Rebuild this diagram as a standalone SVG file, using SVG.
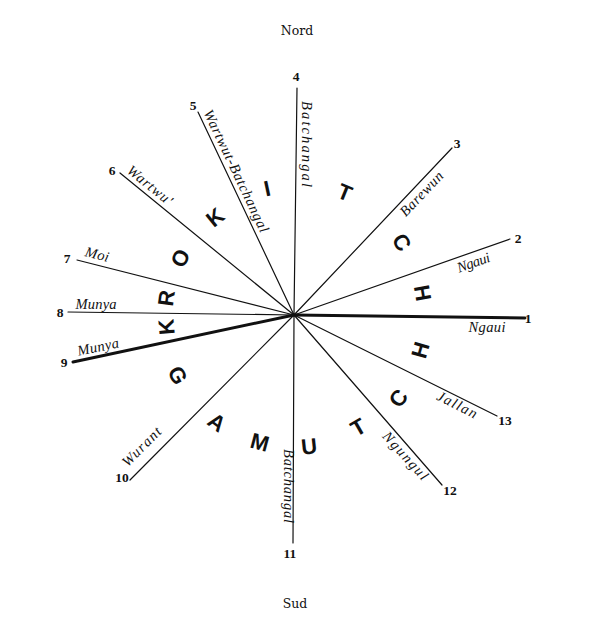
<svg xmlns="http://www.w3.org/2000/svg" width="591" height="623" viewBox="0 0 591 623">
<style>
.bg{fill:#ffffff}
.ln{stroke:#111;stroke-width:1.2;fill:none;stroke-linecap:round}
.thick{stroke:#111;stroke-width:3;fill:none;stroke-linecap:round}
.num{font-family:"Liberation Serif","Times New Roman",serif;font-weight:bold;font-size:13.5px;fill:#111;text-anchor:middle}
.lab{font-family:"Liberation Serif","Times New Roman",serif;font-style:italic;font-size:14.5px;fill:#111;text-anchor:middle}
.big{font-family:"Liberation Sans",Arial,sans-serif;font-weight:bold;font-size:22px;fill:#111;text-anchor:middle}
.dir{font-family:"DejaVu Serif",serif;font-size:12.5px;fill:#111;text-anchor:middle}
</style>
<rect class="bg" x="0" y="0" width="591" height="623"/>
<g id="connectors">
  <line class="thick" x1="294" y1="315" x2="525" y2="318"/>
  <line class="ln" x1="294" y1="315" x2="510" y2="239"/>
  <line class="ln" x1="294" y1="315" x2="452" y2="148"/>
  <line class="ln" x1="294" y1="315" x2="297" y2="88"/>
  <line class="ln" x1="294" y1="315" x2="198" y2="112"/>
  <line class="ln" x1="294" y1="315" x2="120" y2="173"/>
  <line class="ln" x1="294" y1="315" x2="77" y2="260"/>
  <line class="ln" x1="294" y1="315" x2="68" y2="312"/>
  <line class="thick" x1="294" y1="315" x2="73" y2="362"/>
  <line class="ln" x1="294" y1="315" x2="130" y2="480"/>
  <line class="ln" x1="294" y1="315" x2="293" y2="543"/>
  <line class="ln" x1="294" y1="315" x2="442" y2="485"/>
  <line class="ln" x1="294" y1="315" x2="497" y2="416"/>
</g>
<g id="compass">
  <text class="dir" x="297" y="35">Nord</text>
  <text class="dir" x="295" y="608">Sud</text>
</g>
<g id="spoke-1">
  <text class="num" x="528" y="323">1</text>
  <text class="lab" x="487" y="332" textLength="37" lengthAdjust="spacing">Ngaui</text>
</g>
<g id="spoke-2">
  <text class="num" x="518" y="243">2</text>
  <text class="lab" transform="translate(475,267) rotate(-19.4)" textLength="34" lengthAdjust="spacing">Ngaui</text>
</g>
<g id="spoke-3">
  <text class="num" x="457" y="148">3</text>
  <text class="lab" transform="translate(425,197) rotate(-46.6)" textLength="56" lengthAdjust="spacing">Barewun</text>
</g>
<g id="spoke-4">
  <text class="num" x="296" y="81">4</text>
  <text class="lab" transform="translate(302,144) rotate(90)" textLength="86" lengthAdjust="spacing">Batchangal</text>
</g>
<g id="spoke-5">
  <text class="num" x="193" y="110">5</text>
  <text class="lab" transform="translate(232,173) rotate(64.7)" textLength="134" lengthAdjust="spacing">Wartwut-Batchangal</text>
</g>
<g id="spoke-6">
  <text class="num" x="112" y="175">6</text>
  <text class="lab" transform="translate(147,189) rotate(39.2)" textLength="54" lengthAdjust="spacing">Wartwu'</text>
</g>
<g id="spoke-7">
  <text class="num" x="67" y="263">7</text>
  <text class="lab" transform="translate(96,259) rotate(14.2)" textLength="24" lengthAdjust="spacing">Moi</text>
</g>
<g id="spoke-8">
  <text class="num" x="60" y="317">8</text>
  <text class="lab" x="96" y="309" textLength="41" lengthAdjust="spacing">Munya</text>
</g>
<g id="spoke-9">
  <text class="num" x="64" y="367">9</text>
  <text class="lab" transform="translate(99,351.5) rotate(-12)" textLength="42" lengthAdjust="spacing">Munya</text>
</g>
<g id="spoke-10">
  <text class="num" x="122" y="482">10</text>
  <text class="lab" transform="translate(145,450) rotate(-45.2)" textLength="49" lengthAdjust="spacing">Wurant</text>
</g>
<g id="spoke-11">
  <text class="num" x="290" y="558">11</text>
  <text class="lab" transform="translate(284,486) rotate(90)" textLength="74" lengthAdjust="spacing">Batchangal</text>
</g>
<g id="spoke-12">
  <text class="num" x="450" y="495">12</text>
  <text class="lab" transform="translate(402,459) rotate(47.7)" textLength="60" lengthAdjust="spacing">Ngungul</text>
</g>
<g id="spoke-13">
  <text class="num" x="505" y="425">13</text>
  <text class="lab" transform="translate(455,409) rotate(26.6)" textLength="43" lengthAdjust="spacing">Jallan</text>
</g>
<g id="krokitch">
  <text class="big" transform="translate(166,327) rotate(-95)" dy="8">K</text>
  <text class="big" transform="translate(166,298) rotate(-82)" dy="8">R</text>
  <text class="big" transform="translate(180,258) rotate(-63)" dy="8">O</text>
  <text class="big" transform="translate(215,217) rotate(-39)" dy="8">K</text>
  <text class="big" transform="translate(267,188) rotate(-12)" dy="8">I</text>
  <text class="big" transform="translate(345,192) rotate(22)" dy="8">T</text>
  <text class="big" transform="translate(402,242) rotate(56)" dy="8">C</text>
  <text class="big" transform="translate(423,293) rotate(80)" dy="8">H</text>
</g>
<g id="gamutch">
  <text class="big" transform="translate(178,375) rotate(62)" dy="8">G</text>
  <text class="big" transform="translate(217,422) rotate(36)" dy="8">A</text>
  <text class="big" transform="translate(260,442) rotate(15)" dy="8">M</text>
  <text class="big" transform="translate(309,446) rotate(-6)" dy="8">U</text>
  <text class="big" transform="translate(358,427) rotate(-30)" dy="8">T</text>
  <text class="big" transform="translate(398,398) rotate(-51)" dy="8">C</text>
  <text class="big" transform="translate(420,350) rotate(-74)" dy="8">H</text>
</g>
</svg>
